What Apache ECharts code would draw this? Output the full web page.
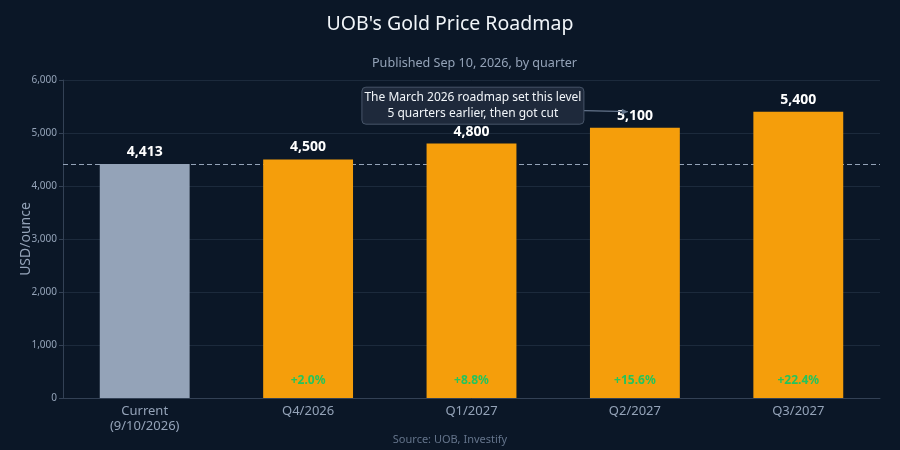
<!DOCTYPE html>
<html><head><meta charset="utf-8">
<script src="https://cdn.jsdelivr.net/npm/echarts@6/dist/echarts.min.js"></script>
<style>html,body{margin:0;padding:0;background:#0b1727;}#c{width:900px;height:450px;}</style>
</head><body><div id="c"></div>
<script>
const categories = ['Current\n(9/10/2026)', 'Q4/2026', 'Q1/2027', 'Q2/2027', 'Q3/2027'];
const prices = [4413, 4500, 4800, 5100, 5400];
const currentPrice = 4413;
const yTicks = { min: 0, max: 6000, interval: 1000 };
const annotationText = 'The March 2026 roadmap set this level\n5 quarters earlier, then got cut';
const annotationCategory = 'Q2/2027';
const annotationValue = 5100;

const FONT = '"Noto Sans", "Open Sans", sans-serif';
const chart = echarts.init(document.getElementById('c'));

const barData = prices.map((v, i) => ({
  value: v,
  itemStyle: { color: i === 0 ? '#94a3b8' : '#f59e0b' }
}));
const pctData = prices.map((v, i) => ({
  value: v,
  label: { show: i > 0 }
}));

chart.setOption({
  backgroundColor: '#0b1727',
  textStyle: { fontFamily: FONT },
  title: [
    { text: "UOB's Gold Price Roadmap", left: 'center', top: 9,
      textStyle: { color: '#f1f5f9', fontSize: 19.5, fontWeight: 'normal', fontFamily: FONT } },
    { text: 'Published Sep 10, 2026, by quarter', left: 367, top: 52,
      textStyle: { color: '#94a3b8', fontSize: 12.6, fontWeight: 'normal', fontFamily: FONT } },
    { text: 'Source: UOB, Investify', left: 'center', top: 429,
      textStyle: { color: '#64748b', fontSize: 11, fontWeight: 'normal', fontFamily: FONT } }
  ],
  grid: { left: 63, right: 20, top: 80, bottom: 52, containLabel: false },
  xAxis: {
    type: 'category', data: categories,
    axisLine: { lineStyle: { color: '#334155' } },
    axisTick: { alignWithLabel: true, lineStyle: { color: '#334155' } },
    axisLabel: { color: '#94a3b8', fontSize: 13, fontFamily: FONT, lineHeight: 15, margin: 6 }
  },
  yAxis: {
    type: 'value', min: yTicks.min, max: yTicks.max, interval: yTicks.interval,
    name: 'USD/ounce', nameLocation: 'middle', nameGap: 30, nameMoveOverlap: false,
    nameTextStyle: { color: '#94a3b8', fontSize: 14, fontFamily: FONT },
    axisLine: { show: true, lineStyle: { color: '#334155' } },
    axisTick: { show: true, length: 4, lineStyle: { color: '#334155' } },
    axisLabel: { color: '#94a3b8', fontSize: 10, fontFamily: FONT, margin: 6,
      formatter: v => v.toLocaleString('en-US') },
    splitLine: { lineStyle: { color: '#1c2a3c', width: 1 } }
  },
  series: [
    {
      type: 'bar', data: barData, barWidth: '55%', z: 2,
      label: { show: true, position: 'top', distance: 5, color: '#ffffff', fontSize: 14,
        fontWeight: 'bold', fontFamily: FONT, formatter: p => p.value.toLocaleString('en-US') },
      markLine: {
        z: 1, silent: true, symbol: ['none', 'none'],
        label: { show: false },
        lineStyle: { color: '#94a3b8', type: [5, 3], width: 1 },
        data: [{ yAxis: currentPrice }]
      }
    },
    {
      type: 'bar', data: pctData, barWidth: '55%', barGap: '-100%', z: 3,
      itemStyle: { color: 'transparent' },
      label: { position: 'insideBottom', distance: 11, color: '#22c55e', fontSize: 12,
        fontWeight: 'bold', fontFamily: FONT,
        formatter: p => '+' + ((p.value / currentPrice - 1) * 100).toFixed(1) + '%' }
    }
  ],
  animation: false
});

const pt = chart.convertToPixel({ gridIndex: 0 }, [annotationCategory, annotationValue]);
const endX = pt[0] - 7, endY = pt[1] - 16;
const boxCx = pt[0] - 162, boxCy = pt[1] - 22;
const boxW = 222, boxH = 37;
chart.setOption({
  graphic: [
    { type: 'line', z: 10,
      shape: { x1: boxCx + boxW / 2, y1: endY - 1, x2: endX, y2: endY },
      style: { stroke: '#64748b', lineWidth: 1.2 } },
    { type: 'polygon', z: 10,
      shape: { points: [[endX, endY], [endX - 6, endY - 3], [endX - 6, endY + 3]] },
      style: { fill: '#64748b' } },
    { type: 'rect', z: 11,
      shape: { x: boxCx - boxW / 2, y: boxCy - boxH / 2, width: boxW, height: boxH, r: 4 },
      style: { fill: '#1e293b', stroke: '#475569', lineWidth: 1 } },
    { type: 'text', z: 12, x: boxCx, y: boxCy,
      style: { text: annotationText, fill: '#f1f5f9', fontSize: 12, fontFamily: FONT,
        align: 'center', verticalAlign: 'middle', lineHeight: 16 } }
  ]
});
</script></body></html>
